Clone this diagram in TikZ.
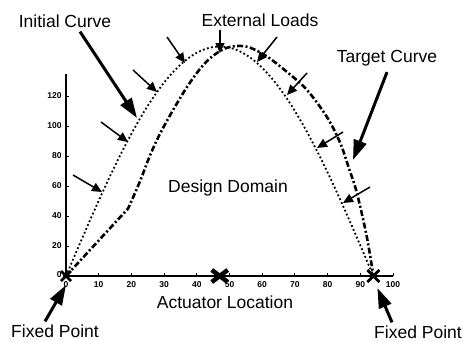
\documentclass[tikz,border=0pt]{standalone}
\usepackage{fontspec}
\setmainfont{Liberation Sans}
\usetikzlibrary{arrows.meta}

\tikzset{
  bigtext/.style={font=\fontsize{17.5}{20}\selectfont, inner sep=0pt},
  ticklbl/.style={font=\fontsize{8.5}{9}\selectfont\bfseries, inner sep=1pt},
  initcurve/.style={line width=1.8pt, dash pattern=on 1.8pt off 2.4pt},
  targcurve/.style={line width=2.6pt, dash pattern=on 6pt off 2.4pt on 2pt off 2.4pt},
  loadarrow/.style={line width=1.5pt, -{Triangle[length=10pt,width=9pt]}},
  bigarrow/.style={line width=3pt, -{Triangle[length=20pt,width=13pt]}},
  fixmark/.style={line width=2.8pt}
}

\begin{document}
\begin{tikzpicture}[x=1pt,y=-1pt]
  \useasboundingbox (0,0) rectangle (463,341);

  % axes, ticks and curves in data units
  \begin{scope}[shift={(66,276)},x=3.27pt,y=1.5pt]
    \draw[line width=1.2pt] (0,0) -- (0,135);
    \draw[line width=1.2pt] (-1,0) -- (100,0);
    \foreach \y in {20,40,...,120} {
      \draw[line width=0.9pt] (0,\y) -- (1,\y);
      \node[ticklbl,anchor=east] at (-1,\y) {\y};
    }
    \node[ticklbl,anchor=east] at (-1,1) {0};
    \foreach \x in {0,10,...,100} {
      \draw[line width=0.9pt] (\x,0) -- (\x,2);
      \node[ticklbl,anchor=north] at (\x,-3) {\x};
    }
    \draw[initcurve,domain=0:94,samples=80,smooth,variable=\t]
      plot (\t,{153*sin(1.91489*\t)});
    \draw[targcurve] (0,0) -- (19,45) -- plot[smooth,tension=0.55] coordinates {
      (19,45) (22.6,63) (26,82) (30,100) (37,126) (43,143) (49,152) (55,153)
      (61,147) (67.6,136) (73.7,124) (79.8,106) (83.8,89) (86.5,72) (89,55)
      (92,26) (94,0)};
    \coordinate (fixA) at (0,0);
    \coordinate (fixB) at (94,0);
    \coordinate (act) at (47,0);
  \end{scope}

  % markers
  \draw[fixmark] ([xshift=-5pt,yshift=5pt]fixA) -- ([xshift=5pt,yshift=-5pt]fixA)
                 ([xshift=-5pt,yshift=-5pt]fixA) -- ([xshift=5pt,yshift=5pt]fixA);
  \draw[fixmark] ([xshift=-6pt,yshift=6pt]fixB) -- ([xshift=6pt,yshift=-6pt]fixB)
                 ([xshift=-6pt,yshift=-6pt]fixB) -- ([xshift=6pt,yshift=6pt]fixB);
  \draw[line width=4.5pt] ([xshift=-8pt,yshift=6pt]act) -- ([xshift=8pt,yshift=-6pt]act)
                          ([xshift=-8pt,yshift=-6pt]act) -- ([xshift=8pt,yshift=6pt]act);

  % external loads
  \foreach \a/\b [count=\i] in {{73,175}/{102,192}, {101,122}/{128,142},
      {133,70}/{157,92}, {167,37}/{185,63}, {277,37}/{257,62},
      {307,73}/{287,95}, {343,132}/{317,148}, {370,187}/{343,203}} {
    \coordinate (load\i) at (\a);
    \coordinate (hit\i) at (\b);
    \draw[loadarrow] (load\i) -- (hit\i);
  }

  % labels
  \node[bigtext] (initlbl) at (65,21) {Initial Curve};
  \node[bigtext] (extlbl) at (260,20) {External Loads};
  \node[bigtext] (tgtlbl) at (387,58) {Target Curve};
  \node[bigtext] (domlbl) at (228,188) {Design Domain};
  \node[bigtext] (actlbl) at (225,302) {Actuator Location};
  \node[bigtext] (fixlblA) at (55,331) {Fixed Point};
  \node[bigtext] (fixlblB) at (418,332) {Fixed Point};

  \coordinate (inittip) at (137,118);
  \coordinate (exttip) at (220,53);
  \coordinate (tgttip) at (353,160);

  \draw[bigarrow] ([xshift=15pt,yshift=-4pt]initlbl.south) -- (inittip);
  \draw[loadarrow] ([xshift=-40pt,yshift=-3pt]extlbl.south) -- (exttip);
  \draw[bigarrow] ([yshift=-6pt]tgtlbl.south) -- (tgttip);
  \draw[bigarrow] ([xshift=-10pt,yshift=3pt]fixlblA.north) -- ([yshift=-9pt]fixA);
  \draw[bigarrow] ([xshift=-26pt,yshift=3pt]fixlblB.north) -- ([xshift=4pt,yshift=-12pt]fixB);
\end{tikzpicture}
\end{document}
